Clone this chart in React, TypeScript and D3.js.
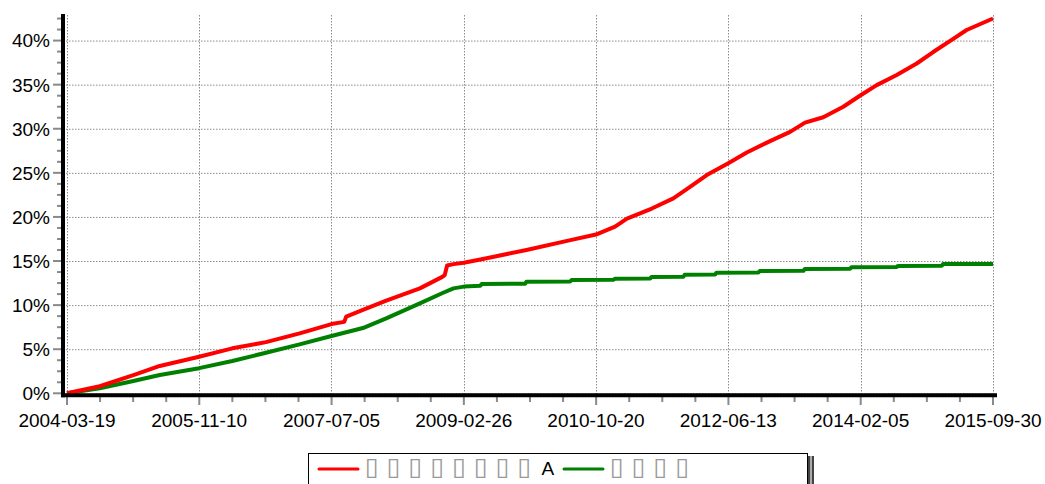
import { useEffect, useRef } from 'react';
import * as d3 from 'd3';

const WIDTH = 1045;
const HEIGHT = 484;

const START_DATE = '2004-03-19';
const END_DATE = '2015-09-30';

const X_TICK_LABELS = [
  '2004-03-19', '2005-11-10', '2007-07-05', '2009-02-26',
  '2010-10-20', '2012-06-13', '2014-02-05', '2015-09-30'
];
const Y_TICKS = [0, 5, 10, 15, 20, 25, 30, 35, 40];

const RED_DATES = [
  '2004-03-19', '2004-08-15', '2005-01-15', '2005-05-15', '2005-11-10', '2006-04-10',
  '2006-09-10', '2007-02-10', '2007-07-05', '2007-09-01', '2007-09-10', '2007-11-25',
  '2008-03-10', '2008-08-10', '2008-11-20', '2008-12-01', '2008-12-12', '2009-01-10',
  '2009-02-26', '2009-05-18', '2009-12-08', '2010-07-01', '2010-10-20', '2011-01-15',
  '2011-03-10', '2011-07-01', '2011-10-07', '2011-12-22', '2012-03-07', '2012-06-13',
  '2012-09-05', '2012-12-20', '2013-03-21', '2013-05-28', '2013-08-19', '2013-11-18',
  '2014-02-05', '2014-04-19', '2014-07-19', '2014-10-18', '2015-01-01', '2015-04-02',
  '2015-06-02', '2015-09-30'
];
const RED_VALUES = [
  0, 0.8, 2.05, 3.1, 4.15, 5.1,
  5.8, 6.8, 7.85, 8.1, 8.7, 9.45,
  10.5, 11.9, 13.2, 13.4, 14.5, 14.65,
  14.8, 15.2, 16.25, 17.4, 18.0, 18.9,
  19.8, 20.95, 22.1, 23.4, 24.75, 26.1,
  27.3, 28.6, 29.65, 30.7, 31.3, 32.5,
  33.8, 34.95, 36.1, 37.4, 38.7, 40.2,
  41.2, 42.5
];

const GREEN_DATES = [
  '2004-03-19', '2004-08-15', '2005-01-15', '2005-05-15', '2005-11-10', '2006-04-10',
  '2006-09-10', '2007-02-10', '2007-07-05', '2007-11-25', '2008-03-10', '2008-08-10',
  '2008-11-24', '2009-01-10', '2009-02-26', '2009-05-12', '2009-05-18', '2009-12-02',
  '2009-12-08', '2010-06-25', '2010-07-01', '2011-01-08', '2011-01-14', '2011-06-24',
  '2011-06-30', '2011-11-22', '2011-11-28', '2012-04-14', '2012-04-20', '2012-10-28',
  '2012-11-03', '2013-05-21', '2013-05-27', '2013-12-19', '2013-12-25', '2014-07-19',
  '2014-07-25', '2015-02-09', '2015-02-15', '2015-09-30'
];
const GREEN_VALUES = [
  0, 0.57, 1.4, 2.07, 2.85, 3.66,
  4.6, 5.55, 6.5, 7.4, 8.5, 10.2,
  11.4, 11.9, 12.1, 12.2, 12.4, 12.42,
  12.66, 12.68, 12.85, 12.87, 13.0, 13.02,
  13.2, 13.22, 13.45, 13.47, 13.67, 13.69,
  13.87, 13.89, 14.1, 14.12, 14.3, 14.32,
  14.45, 14.47, 14.65, 14.67
];

const RED_LABEL = '▯▯▯▯▯▯▯▯A';
const GREEN_LABEL = '▯▯▯▯';

const FONT = '"Liberation Sans", Arial, sans-serif';

export default function App() {
  const svgRef = useRef<SVGSVGElement>(null);

  useEffect(() => {
    if (!svgRef.current) return;
    const parse = d3.timeParse('%Y-%m-%d');

    const svg = d3.select(svgRef.current);
    svg.selectAll('*').remove();

    const x = d3.scaleTime()
      .domain([parse(START_DATE)!, parse(END_DATE)!])
      .range([67, 993]);

    const y = d3.scaleLinear()
      .domain([0, 42.9])
      .range([393.3, 15]);

    const xMajor = X_TICK_LABELS.map(d => parse(d)!);
    const t0 = x.domain()[0].getTime();
    const t1 = x.domain()[1].getTime();
    const xMinor = d3.range(0, 29).map(i => new Date(t0 + (t1 - t0) * i / 28));
    const yMinor = d3.range(0, 43, 1.25);

    // Grid
    const grid = svg.append('g')
      .attr('stroke', '#8c8c8c')
      .attr('stroke-width', 1)
      .attr('stroke-dasharray', '1.5,1.5');

    grid.selectAll('.hgrid')
      .data(Y_TICKS)
      .enter()
      .append('line')
      .attr('x1', 63)
      .attr('x2', x.range()[1])
      .attr('y1', d => y(d) + 0.5)
      .attr('y2', d => y(d) + 0.5);

    grid.selectAll('.vgrid')
      .data(xMajor)
      .enter()
      .append('line')
      .attr('x1', d => Math.round(x(d)) + 0.5)
      .attr('x2', d => Math.round(x(d)) + 0.5)
      .attr('y1', 15)
      .attr('y2', 395);

    // Tick marks
    const ticks = svg.append('g')
      .attr('stroke', '#8a8a8a')
      .attr('stroke-width', 2);

    ticks.selectAll('.ytick')
      .data(yMinor)
      .enter()
      .append('line')
      .attr('x1', d => (Math.abs(d % 5) < 0.01 ? 53 : 57))
      .attr('x2', 62)
      .attr('y1', d => y(d))
      .attr('y2', d => y(d));

    ticks.selectAll('.xtick')
      .data(xMinor)
      .enter()
      .append('line')
      .attr('x1', d => x(d))
      .attr('x2', d => x(d))
      .attr('y1', 396)
      .attr('y2', (_, i) => (i % 4 === 0 ? 405 : 402));

    // Series
    const line = d3.line<[Date, number]>()
      .x(d => x(d[0]))
      .y(d => y(d[1]));

    const redData: [Date, number][] = RED_DATES.map((d, i) => [parse(d)!, RED_VALUES[i]]);
    const greenData: [Date, number][] = GREEN_DATES.map((d, i) => [parse(d)!, GREEN_VALUES[i]]);

    svg.append('path')
      .datum(greenData)
      .attr('d', line)
      .attr('fill', 'none')
      .attr('stroke', '#008000')
      .attr('stroke-width', 4)
      .attr('stroke-linejoin', 'round');

    svg.append('path')
      .datum(redData)
      .attr('d', line)
      .attr('fill', 'none')
      .attr('stroke', '#ff0000')
      .attr('stroke-width', 4)
      .attr('stroke-linejoin', 'round');

    // Axis lines
    svg.append('line')
      .attr('x1', 63).attr('x2', 63)
      .attr('y1', 14).attr('y2', 397.3)
      .attr('stroke', '#000').attr('stroke-width', 4);

    svg.append('line')
      .attr('x1', 61).attr('x2', 997)
      .attr('y1', 395.3).attr('y2', 395.3)
      .attr('stroke', '#000').attr('stroke-width', 4);

    // Tick labels
    svg.selectAll('.ylabel')
      .data(Y_TICKS)
      .enter()
      .append('text')
      .attr('x', 50)
      .attr('y', d => y(d))
      .attr('dy', '0.36em')
      .attr('text-anchor', 'end')
      .attr('font-family', FONT)
      .attr('font-size', '19px')
      .attr('fill', '#000')
      .text(d => `${d}%`);

    svg.selectAll('.xlabel')
      .data(xMajor)
      .enter()
      .append('text')
      .attr('x', d => x(d))
      .attr('y', 427)
      .attr('text-anchor', 'middle')
      .attr('font-family', FONT)
      .attr('font-size', '19px')
      .attr('fill', '#000')
      .text((_, i) => X_TICK_LABELS[i]);

    // Legend
    const legend = svg.append('g');
    legend.append('rect')
      .attr('x', 808).attr('y', 456).attr('width', 2).attr('height', 40).attr('fill', '#444');
    legend.append('rect')
      .attr('x', 810).attr('y', 456).attr('width', 2).attr('height', 40).attr('fill', '#aaa');
    legend.append('rect')
      .attr('x', 812).attr('y', 456).attr('width', 2).attr('height', 40).attr('fill', '#444');
    legend.append('rect')
      .attr('x', 308.5).attr('y', 453.5)
      .attr('width', 499).attr('height', 45)
      .attr('fill', '#fff').attr('stroke', '#000').attr('stroke-width', 1);

    const items = [
      { label: RED_LABEL, color: '#ff0000', x0: 318 },
      { label: GREEN_LABEL, color: '#008000', x0: 563 }
    ];

    items.forEach(item => {
      legend.append('line')
        .attr('x1', item.x0 + 1).attr('x2', item.x0 + 40)
        .attr('y1', 469).attr('y2', 469)
        .attr('stroke', item.color)
        .attr('stroke-width', 3)
        .attr('stroke-linecap', 'round');

      const text = legend.append('text')
        .attr('y', 475)
        .attr('font-family', FONT)
        .attr('font-size', '19px');

      Array.from(item.label).forEach((ch, i) => {
        const isBox = ch === '▯';
        text.append('tspan')
          .attr('x', item.x0 + (isBox ? 47 : 49) + i * 21.8)
          .attr('fill', isBox ? '#999' : '#000')
          .attr('font-family', isBox ? '"DejaVu Sans"' : FONT)
          .attr('font-size', isBox ? '25px' : '19px')
          .text(ch);
      });
    });
  }, []);

  return (
    <svg
      ref={svgRef}
      width={WIDTH}
      height={HEIGHT}
      style={{ position: 'absolute', left: 0, top: 0, background: '#fff' }}
    />
  );
}
